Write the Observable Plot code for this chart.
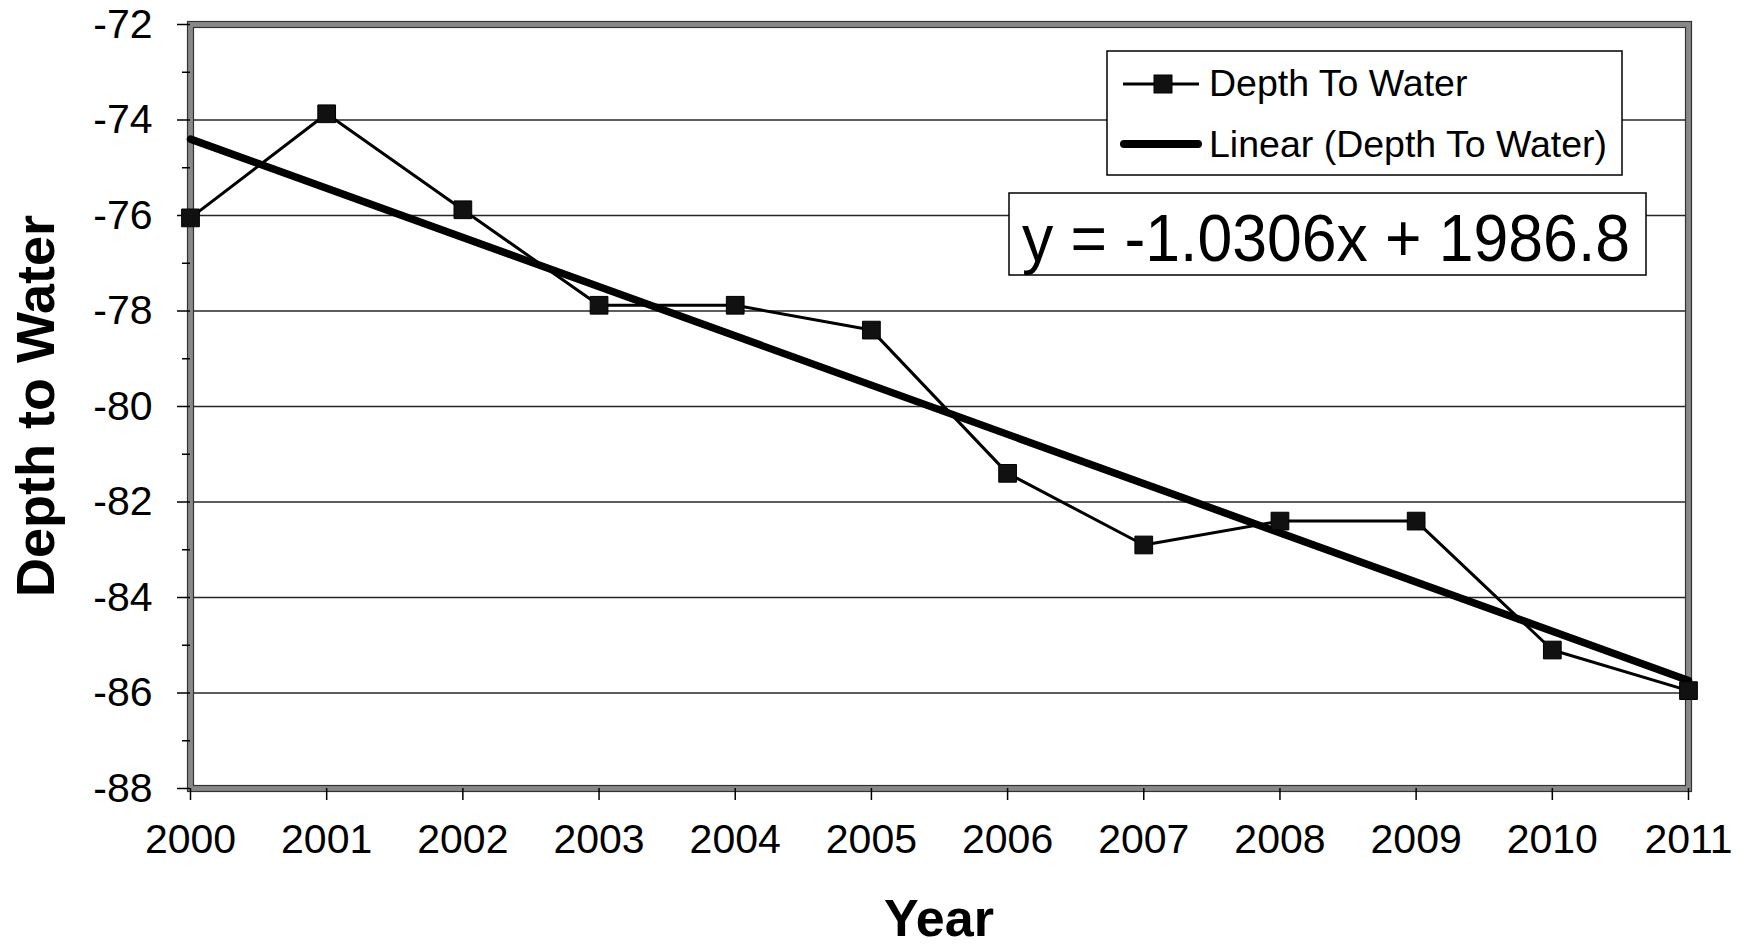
<!DOCTYPE html>
<html>
<head>
<meta charset="utf-8">
<script src="https://cdn.jsdelivr.net/npm/d3@7"></script>
<script src="https://cdn.jsdelivr.net/npm/@observablehq/plot@0.6"></script>
<style>
  html, body { margin: 0; padding: 0; background: #fff; }
  #chart svg { display: block; }
</style>
</head>
<body>
<div id="chart"></div>
<script>
// Annual depth-to-water readings
const years = [2000, 2001, 2002, 2003, 2004, 2005, 2006, 2007, 2008, 2009, 2010, 2011];
const depthToWater = [-76.05, -73.87, -75.88, -77.88, -77.88, -78.4, -81.4, -82.9, -82.4, -82.4, -85.1, -85.95];

// Axis ticks
const yTicks = [-88, -86, -84, -82, -80, -78, -76, -74, -72];
const yMinorTicks = [-87, -85, -83, -81, -79, -77, -75, -73];

// Linear trend as stated by the equation label
const trendSlope = -1.0306;
const trendIntercept = 1986.8;
const equationLabel = "y = -1.0306x + 1986.8";

// Text
const seriesName = "Depth To Water";
const trendName = "Linear (Depth To Water)";
const xTitle = "Year";
const yTitle = "Depth to Water";

const data = years.map((year, i) => ({year, depth: depthToWater[i]}));
const trend = [years[0], years[years.length - 1]].map(year => ({year, depth: trendSlope * year + trendIntercept}));

const W = 1746, H = 947;
const font = "Arial, 'Liberation Sans', Helvetica, sans-serif";

const chart = Plot.plot({
  width: W,
  height: H,
  marginLeft: 190,
  marginRight: 58,
  marginTop: 24,
  marginBottom: 159,
  style: {fontFamily: font, background: "#fff", color: "#000"},
  x: {domain: [years[0], years[years.length - 1]]},
  y: {domain: [yTicks[0], yTicks[yTicks.length - 1]]},
  marks: [
    Plot.gridY(yTicks.slice(1, -1), {stroke: "#000", strokeOpacity: 0.85, strokeWidth: 1.5}),
    Plot.frame({stroke: "#888", strokeWidth: 6}),
    Plot.frame({stroke: "#333", strokeWidth: 1.2, inset: -3}),
    Plot.frame({stroke: "#333", strokeWidth: 1.2, inset: 3}),
    Plot.axisY(yMinorTicks, {tickSize: 8, text: null, label: null, strokeWidth: 1.5}),
    Plot.axisY(yTicks, {tickSize: 13, tickPadding: 25, tickFormat: d => String(d), fontSize: 41, label: null, strokeWidth: 1.5}),
    Plot.axisX(years, {tickSize: 12, tickPadding: 23, tickFormat: d => String(d), fontSize: 41, label: null, strokeWidth: 1.5}),
    Plot.line(trend, {x: "year", y: "depth", stroke: "#000", strokeWidth: 7.5}),
    Plot.line(data, {x: "year", y: "depth", stroke: "#000", strokeWidth: 3}),
    Plot.dot(data, {x: "year", y: "depth", symbol: "square", r: 10, fill: "#111", stroke: "#000", strokeWidth: 1})
  ]
});

document.getElementById("chart").appendChild(chart);

const svg = d3.select(chart);

// Axis titles
svg.append("text")
  .attr("transform", "translate(54,406) rotate(-90)")
  .attr("text-anchor", "middle")
  .attr("font-family", font)
  .attr("font-weight", "bold")
  .attr("font-size", 54)
  .attr("fill", "#000")
  .text(yTitle);

svg.append("text")
  .attr("x", 939)
  .attr("y", 936)
  .attr("text-anchor", "middle")
  .attr("font-family", font)
  .attr("font-weight", "bold")
  .attr("font-size", 52)
  .attr("fill", "#000")
  .text(xTitle);

// Legend box
const legend = svg.append("g").attr("text-anchor", "start");
legend.append("rect")
  .attr("x", 1107).attr("y", 51).attr("width", 515).attr("height", 124)
  .attr("fill", "#fff").attr("stroke", "#000").attr("stroke-width", 1.5);
legend.append("line")
  .attr("x1", 1123).attr("x2", 1199).attr("y1", 84).attr("y2", 84)
  .attr("stroke", "#000").attr("stroke-width", 3);
legend.append("rect")
  .attr("x", 1154).attr("y", 75).attr("width", 18).attr("height", 18)
  .attr("fill", "#111").attr("stroke", "#000");
legend.append("text")
  .attr("x", 1209).attr("y", 96)
  .attr("text-anchor", "start")
  .attr("font-family", font).attr("font-size", 37.5).attr("fill", "#000")
  .text(seriesName);
legend.append("line")
  .attr("x1", 1124).attr("x2", 1198).attr("y1", 144).attr("y2", 144)
  .attr("stroke", "#000").attr("stroke-width", 8).attr("stroke-linecap", "round");
legend.append("text")
  .attr("x", 1209).attr("y", 157)
  .attr("text-anchor", "start")
  .attr("font-family", font).attr("font-size", 37.5).attr("fill", "#000")
  .text(trendName);

// Trend equation box
const eq = svg.append("g").attr("text-anchor", "start");
eq.append("rect")
  .attr("x", 1009).attr("y", 193).attr("width", 637).attr("height", 82)
  .attr("fill", "#fff").attr("stroke", "#000").attr("stroke-width", 1.5);
eq.append("text")
  .attr("x", 1022).attr("y", 261)
  .attr("text-anchor", "start")
  .attr("font-family", font).attr("font-size", 66).attr("fill", "#000")
  .attr("textLength", 608).attr("lengthAdjust", "spacingAndGlyphs")
  .text(equationLabel);
</script>
</body>
</html>
